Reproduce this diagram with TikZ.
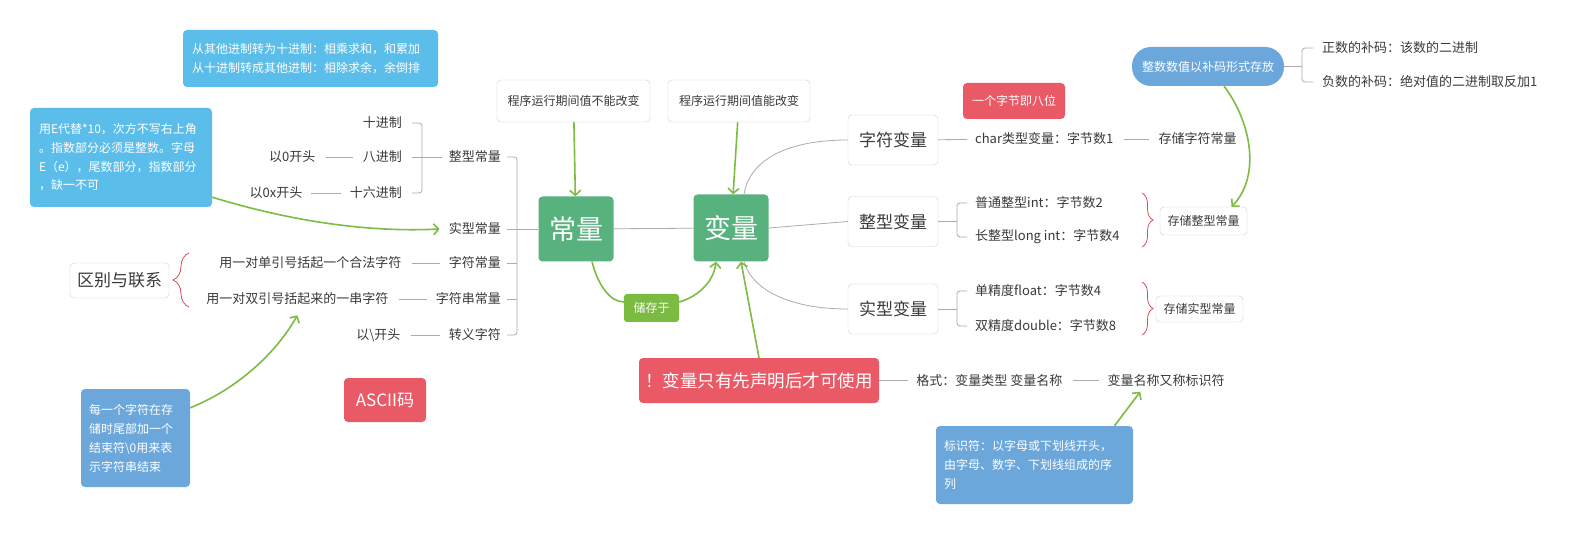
\documentclass[tikz,border=0pt]{standalone}
\usepackage{fontspec}
\setmainfont{Noto Sans CJK SC}
\usetikzlibrary{positioning,arrows.meta,calc,decorations.pathreplacing}

\definecolor{hubgreen}{HTML}{58B27D}
\definecolor{taggreen}{HTML}{7CBB42}
\definecolor{arrowgreen}{HTML}{7DBB45}
\definecolor{alertred}{HTML}{E95A66}
\definecolor{skyblue}{HTML}{5BBDE9}
\definecolor{steelblue}{HTML}{6CA7DC}
\definecolor{boxline}{HTML}{CFCFCF}
\definecolor{linkgray}{HTML}{ABABAB}
\definecolor{textdark}{HTML}{3A3A3A}
\definecolor{bracered}{HTML}{D0505A}

\begin{document}
\begin{tikzpicture}[
    x=1pt, y=-1pt,
    hub/.style={rectangle, fill=hubgreen, text=white, rounded corners=4pt, minimum width=75pt, minimum height=65pt, font=\fontsize{27}{30}\selectfont},
    topic/.style={rectangle, draw=boxline, fill=white, text=textdark, rounded corners=4pt, minimum width=90pt, minimum height=50pt, font=\fontsize{17}{20}\selectfont},
    remark/.style={rectangle, draw=boxline, fill=white, text=textdark, rounded corners=4pt, inner sep=0pt, font=\fontsize{12}{14}\selectfont},
    leaf/.style={inner sep=0pt, text=textdark, font=\fontsize{13}{15}\selectfont},
    alert/.style={rectangle, fill=alertred, text=white, rounded corners=4pt, inner sep=0pt},
    memo/.style={rectangle, fill=skyblue, text=white, rounded corners=4pt, align=left, font=\fontsize{12}{19}\selectfont},
    tag/.style={rectangle, fill=taggreen, text=white, rounded corners=3pt, inner sep=0pt, minimum width=55pt, minimum height=28pt, font=\fontsize{12}{14}\selectfont},
    link/.style={draw=linkgray, line width=0.8pt},
    arrow/.style={draw=arrowgreen, line width=1.6pt, -{Straight Barb[length=5pt,width=11pt]}},
    gline/.style={draw=arrowgreen, line width=1.6pt},
    redbrace/.style={draw=bracered, line width=0.8pt, decorate, decoration={brace, amplitude=#1}}
]
    \fill[white] (0,0) rectangle (1576,534);
    \useasboundingbox (0,0) rectangle (1576,534);

    % Hubs
    \node[hub] (const) at (576,229) {常量};
    \node[hub, minimum height=67pt] (var) at (731,228) {变量};
    \node[tag] (store) at (651.5,308) {储存于};

    % Notes above the hubs
    \node[remark, minimum width=153pt, minimum height=42pt] (note1) at (573.5,101) {程序运行期间值不能改变};
    \node[remark, minimum width=142pt, minimum height=42pt] (note2) at (739,101) {程序运行期间值能改变};

    % Constants
    \node[leaf, anchor=east] (intc) at (501,157) {整型常量};
    \node[leaf, anchor=east] (realc) at (501,229) {实型常量};
    \node[leaf, anchor=east] (charc) at (501,263) {字符常量};
    \node[leaf, anchor=east] (strc) at (501,299) {字符串常量};
    \node[leaf, anchor=east] (escc) at (501,335) {转义字符};

    \node[leaf, anchor=east] (dec) at (402,123) {十进制};
    \node[leaf, anchor=east] (oct) at (402,157) {八进制};
    \node[leaf, anchor=east] (hex) at (402,193) {十六进制};
    \node[leaf, left=47pt of oct] (octpre) {以0开头};
    \node[leaf, left=47pt of hex] (hexpre) {以0x开头};

    \node[leaf, left=47pt of charc] (charlit) {用一对单引号括起一个合法字符};
    \node[leaf, left=47pt of strc] (strlit) {用一对双引号括起来的一串字符};
    \node[leaf, left=48pt of escc] (escpre) {以\textbackslash 开头};

    \node[topic, minimum width=99pt, minimum height=35pt] (diff) at (119.5,280.5) {区别与联系};
    \node[alert, minimum width=82pt, minimum height=44pt, font=\fontsize{17}{20}\selectfont] (ascii) at (385,400) {ASCII码};

    % Memos on the left
    \node[memo, text width=237pt, inner xsep=9pt, minimum height=57pt] (radix) at (310.5,58.5)
        {从其他进制转为十进制：相乘求和，和累加\\从十进制转成其他进制：相除求余，余倒排};
    \node[memo, text width=164pt, inner xsep=9pt, minimum height=99pt, font=\fontsize{12}{18.7}\selectfont] (expo) at (121,157.5)
        {用E代替*10，次方不写右上角\\。指数部分必须是整数。字母\\E（e），尾数部分，指数部分\\，缺一不可};
    \node[memo, fill=steelblue, text width=93pt, inner xsep=8pt, minimum height=98pt] (nul) at (135.5,438)
        {每一个字符在存\\储时尾部加一个\\结束符\textbackslash 0用来表\\示字符串结束};

    % Variables
    \node[topic] (charv) at (893,140) {字符变量};
    \node[topic] (intv) at (893,221.5) {整型变量};
    \node[topic] (realv) at (893,309) {实型变量};
    \node[alert, minimum width=102pt, minimum height=36pt, font=\fontsize{12}{14}\selectfont] (byte8) at (1014,101) {一个字节即八位};

    \node[leaf, anchor=west] (charsz) at (975,139) {char类型变量：字节数1};
    \node[leaf, right=45pt of charsz] (charst) {存储字符常量};
    \node[leaf, anchor=west] (int2) at (975,203) {普通整型int：字节数2};
    \node[leaf, anchor=west] (int4) at (975,237) {长整型long int：字节数4};
    \node[leaf, anchor=west] (flt) at (975,291) {单精度float：字节数4};
    \node[leaf, anchor=west] (dbl) at (975,326) {双精度double：字节数8};
    \node[remark, minimum width=87pt, minimum height=28pt] (intst) at (1203.5,221) {存储整型常量};
    \node[remark, minimum width=87pt, minimum height=26pt] (realst) at (1199.5,309) {存储实型常量};

    \node[rectangle, fill=steelblue, text=white, rounded corners=19pt, minimum width=152pt, minimum height=39pt, inner sep=0pt, font=\fontsize{12}{14}\selectfont] (pill) at (1208,66.5) {整数数值以补码形式存放};
    \node[leaf, anchor=west] (pos) at (1322,48) {正数的补码：该数的二进制};
    \node[leaf, anchor=west] (neg) at (1322,82) {负数的补码：绝对值的二进制取反加1};

    % Declaration
    \node[alert, minimum width=240pt, minimum height=45pt, font=\fontsize{17.5}{20}\selectfont] (warn) at (759,380.5) {！变量只有先声明后才可使用};
    \node[leaf, right=37pt of warn] (fmt) {格式：变量类型 变量名称};
    \node[leaf, right=45pt of fmt] (ident) {变量名称又称标识符};
    \node[memo, fill=steelblue, text width=181pt, inner xsep=8pt, minimum height=78pt] (idnote) at (1034.5,465)
        {标识符：以字母或下划线开头，\\由字母、数字、下划线组成的序\\列};

    % Gray links
    \draw[link] (const) -- (var);
    \draw[link, rounded corners=3pt] ([xshift=6pt]intc.east) -- ++(10,0) |- ([xshift=6pt]escc.east);
    \foreach \n in {charc,strc} \draw[link] ([xshift=6pt]\n.east) -- ++(10,0);
    \draw[link] ([xshift=6pt]realc.east) -- (const.west);
    \draw[link, rounded corners=3pt] ([xshift=10pt]dec.east) -- ++(10,0) |- ([xshift=10pt]hex.east);
    \draw[link] ([xshift=10pt]oct.east) -- ([xshift=-7pt]intc.west);
    \draw[link, shorten <=10pt, shorten >=10pt] (octpre) -- (oct);
    \draw[link, shorten <=8pt, shorten >=9pt] (hexpre) -- (hex);
    \draw[link, shorten <=10pt, shorten >=9pt] (charlit) -- (charc);
    \draw[link, shorten <=10pt, shorten >=9pt] (strlit) -- (strc);
    \draw[link, shorten <=10pt, shorten >=9pt] (escpre) -- (escc);

    \draw[link] ([xshift=13pt]var.north) .. controls (750,158) and (790,140) .. (charv.west);
    \draw[link] (var.east) -- (intv.west);
    \draw[link] ([xshift=13pt]var.south) .. controls (752,290) and (790,309) .. (realv.west);
    \draw[link, shorten >=8pt] (charv) -- (charsz);
    \draw[link, shorten <=10pt, shorten >=10pt] (charsz) -- (charst);
    \draw[link] (intv.east) -- ++(19,0);
    \draw[link, rounded corners=3pt] ([xshift=-8pt]int2.west) -- ++(-10,0) |- ([xshift=-8pt]int4.west);
    \draw[link] (realv.east) -- ++(19,0);
    \draw[link, rounded corners=3pt] ([xshift=-8pt]flt.west) -- ++(-10,0) |- ([xshift=-8pt]dbl.west);
    \draw[link] (pill.east) -- ++(18,0);
    \draw[link, rounded corners=3pt] ([xshift=-9pt]pos.west) -- ++(-11,0) |- ([xshift=-9pt]neg.west);
    \draw[link, shorten >=8pt] (warn) -- (fmt);
    \draw[link, shorten <=10pt, shorten >=9pt] (fmt) -- (ident);

    % Braces
    \draw[redbrace=16pt] (189,307) -- (189,253);
    \draw[redbrace=11pt] (1142,193) -- (1142,247);
    \draw[redbrace=11pt] (1142,282) -- (1142,335);

    % Green arrows
    \draw[arrow] (note1) -- (const);
    \draw[arrow] (note2) -- (var);
    \draw[arrow] (warn.north) -- ([xshift=10pt]var.south);
    \draw[gline] ([xshift=16pt]const.south) .. controls (598,285) and (610,302) .. ([yshift=6pt]store.west);
    \draw[arrow] ([yshift=6pt]store.east) .. controls (700,296) and (714,280) .. ([xshift=-15pt]var.south);
    \draw[arrow] ([yshift=10pt]expo.south east) .. controls (280,218) and (360,233) .. ([xshift=-9pt]realc.west);
    \draw[arrow] ([yshift=-19pt]nul.north east) .. controls (235,390) and (275,355) .. ([yshift=-10pt]strlit.south);
    \draw[arrow] ([xshift=80pt]idnote.north) -- ([xshift=-26pt,yshift=-5pt]ident.south);
    \draw[arrow] ([xshift=16pt]pill.south) .. controls (1250,120) and (1262,175) .. ([xshift=28pt]intst.north);
\end{tikzpicture}
\end{document}
